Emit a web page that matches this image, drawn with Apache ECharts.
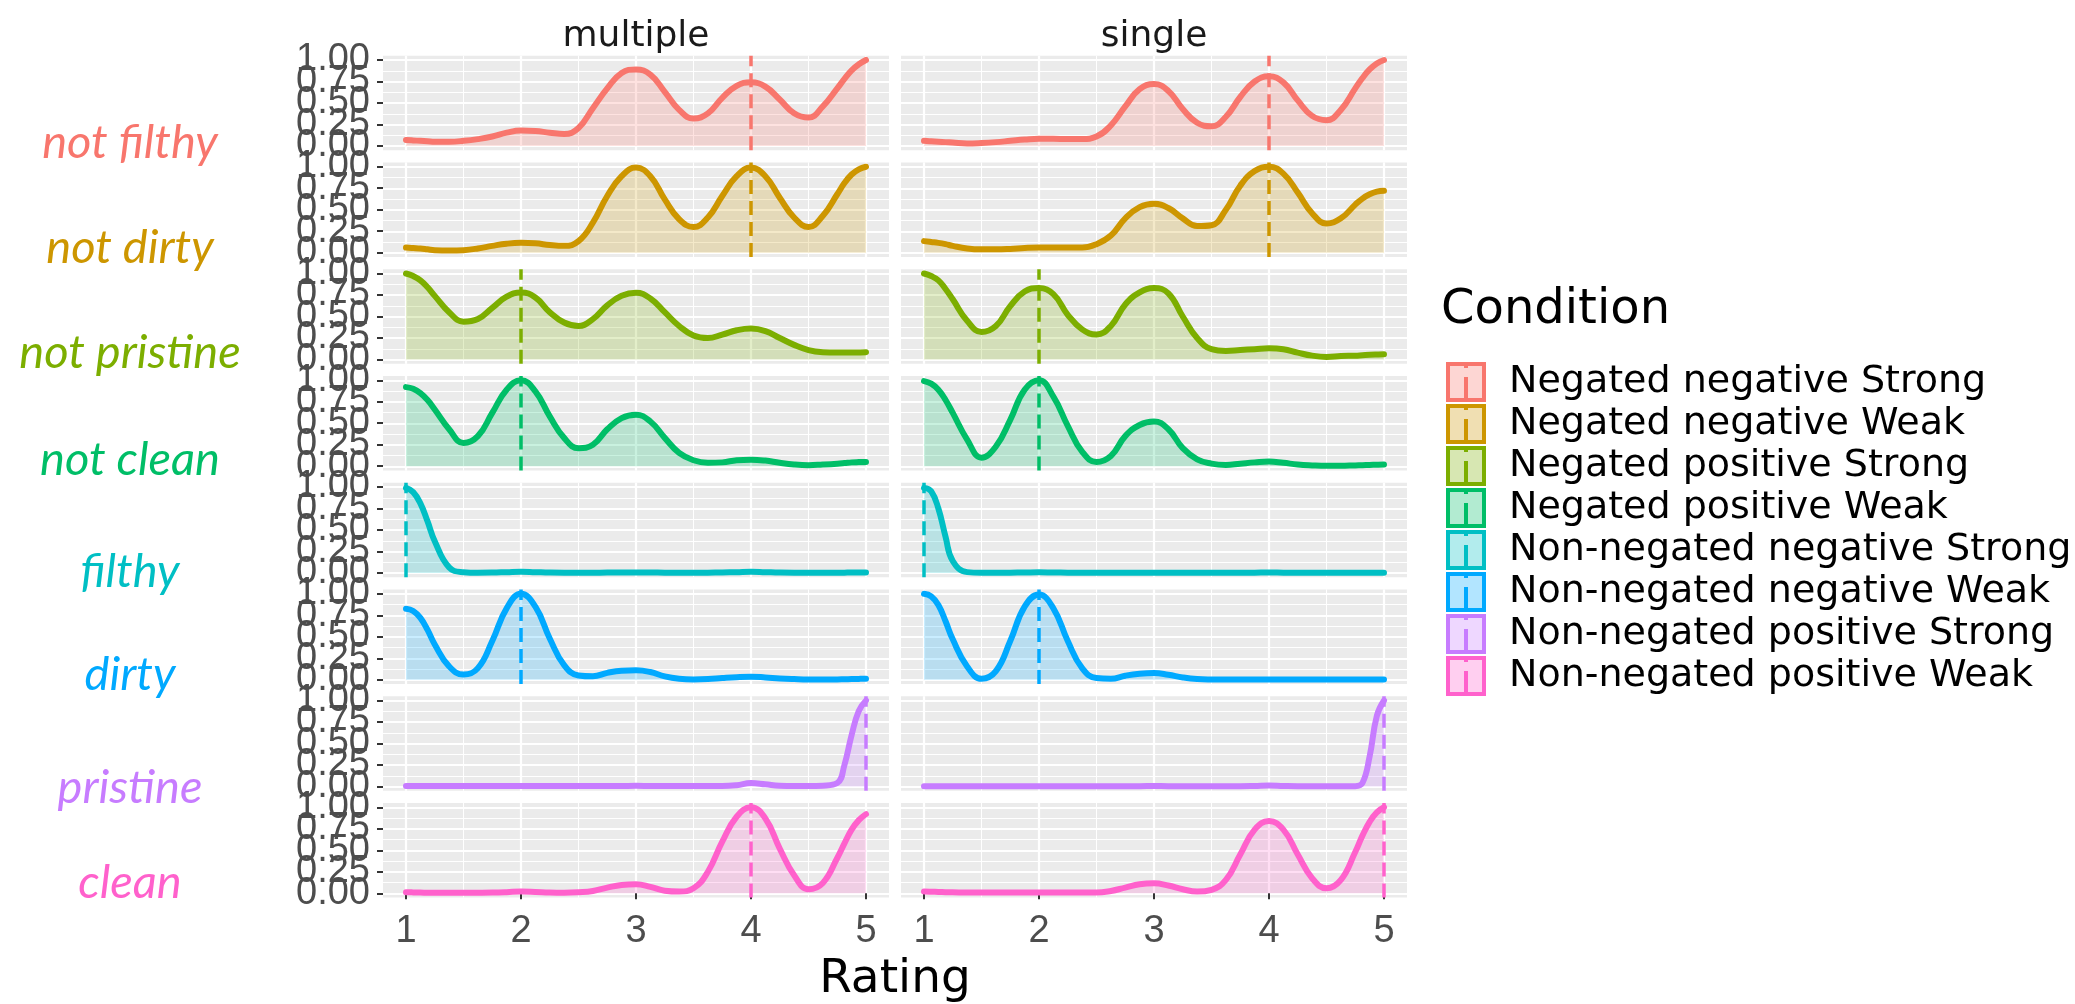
<!DOCTYPE html>
<html>
<head>
<meta charset="utf-8">
<script src="https://cdn.jsdelivr.net/npm/echarts@6/dist/echarts.min.js"></script>
<style>
html,body{margin:0;padding:0;background:#ffffff;}
#chart{width:2075px;height:1004px;}
</style>
</head>
<body>
<div id="chart"></div>
<script>
// ---------------- DATA ----------------
const ratingGrid = [1, 1.0625, 1.125, 1.1875, 1.25, 1.375, 1.5, 1.625, 1.75, 1.875, 2, 2.125, 2.25, 2.375, 2.5, 2.625, 2.75, 2.875, 3, 3.125, 3.25, 3.375, 3.5, 3.625, 3.75, 3.875, 4, 4.125, 4.25, 4.375, 4.5, 4.625, 4.75, 4.8125, 4.875, 4.9375, 5];

const conditions = ['Negated negative Strong', 'Negated negative Weak', 'Negated positive Strong', 'Negated positive Weak',
  'Non-negated negative Strong', 'Non-negated negative Weak', 'Non-negated positive Strong', 'Non-negated positive Weak'];
const rowLabels = ['not filthy', 'not dirty', 'not pristine', 'not clean', 'filthy', 'dirty', 'pristine', 'clean'];
const facets = ['multiple', 'single'];
const xTicks = [1, 2, 3, 4, 5];
const xMinorTicks = [1.5, 2.5, 3.5, 4.5];
const yTicks = [0, 0.25, 0.5, 0.75, 1];
const yLabelsEven = [0, 0.5, 1];
const yLabelsOdd = [0.25, 0.75];
const yMinorTicks = [0.125, 0.375, 0.625, 0.875];
const modeMultiple = [4, 4, 2, 2, 1, 2, 5, 4];
const modeSingle = [4, 4, 2, 2, 1, 2, 5, 5];

const notFilthyMultiple = [0.07,0.065,0.06,0.055,0.05,0.05,0.06,0.08,0.11,0.155,0.18,0.175,0.155,0.14,0.21,0.44,0.67,0.85,0.89,0.83,0.63,0.42,0.32,0.38,0.56,0.70,0.74,0.69,0.54,0.38,0.33,0.46,0.67,0.78,0.88,0.95,1.0];
const notFilthySingle = [0.06,0.055,0.05,0.045,0.04,0.03,0.035,0.045,0.06,0.075,0.085,0.085,0.08,0.08,0.11,0.24,0.46,0.66,0.72,0.64,0.43,0.27,0.23,0.34,0.57,0.75,0.81,0.74,0.53,0.35,0.30,0.42,0.67,0.79,0.89,0.96,1.0];
const notDirtyMultiple = [0.06,0.055,0.05,0.04,0.03,0.025,0.03,0.05,0.08,0.105,0.115,0.11,0.09,0.08,0.135,0.35,0.66,0.89,0.99,0.89,0.62,0.39,0.30,0.41,0.66,0.89,0.99,0.89,0.64,0.41,0.30,0.43,0.68,0.81,0.91,0.97,1.0];
const notDirtySingle = [0.135,0.125,0.115,0.10,0.08,0.05,0.04,0.04,0.045,0.055,0.06,0.06,0.06,0.06,0.10,0.20,0.40,0.53,0.57,0.52,0.40,0.31,0.32,0.50,0.78,0.95,1.0,0.92,0.70,0.46,0.34,0.40,0.56,0.63,0.68,0.71,0.72];
const notPristineMultiple = [1.0,0.97,0.92,0.84,0.74,0.55,0.44,0.47,0.60,0.73,0.78,0.72,0.55,0.43,0.39,0.47,0.63,0.74,0.775,0.71,0.55,0.39,0.28,0.25,0.29,0.34,0.36,0.33,0.25,0.17,0.11,0.085,0.08,0.08,0.08,0.082,0.085];
const notPristineSingle = [1.0,0.97,0.92,0.82,0.70,0.45,0.32,0.39,0.62,0.79,0.83,0.76,0.52,0.35,0.29,0.39,0.64,0.78,0.83,0.77,0.50,0.25,0.12,0.10,0.11,0.12,0.13,0.12,0.08,0.045,0.03,0.04,0.045,0.05,0.055,0.058,0.06];
const notCleanMultiple = [0.92,0.90,0.85,0.77,0.66,0.43,0.27,0.35,0.62,0.89,1.0,0.87,0.58,0.33,0.21,0.25,0.43,0.56,0.60,0.52,0.33,0.155,0.07,0.04,0.045,0.07,0.077,0.066,0.04,0.02,0.012,0.02,0.03,0.037,0.045,0.048,0.05];
const notCleanSingle = [0.99,0.96,0.89,0.77,0.62,0.31,0.10,0.23,0.54,0.89,1.0,0.81,0.47,0.17,0.05,0.12,0.35,0.48,0.52,0.43,0.21,0.08,0.03,0.015,0.03,0.045,0.055,0.04,0.02,0.01,0.005,0.005,0.01,0.012,0.015,0.018,0.02];
const filthyMultiple = [0.99,0.94,0.81,0.60,0.37,0.065,0.01,0.003,0.005,0.01,0.015,0.01,0.005,0.003,0.003,0.003,0.005,0.005,0.006,0.005,0.004,0.003,0.003,0.004,0.006,0.01,0.015,0.01,0.005,0.003,0.003,0.003,0.003,0.004,0.005,0.005,0.005];
const filthySingle = [0.99,0.95,0.75,0.42,0.14,0.01,0.003,0.003,0.004,0.006,0.008,0.006,0.004,0.003,0.003,0.003,0.003,0.004,0.004,0.004,0.003,0.003,0.003,0.003,0.003,0.004,0.006,0.004,0.003,0.003,0.003,0.003,0.003,0.003,0.004,0.004,0.004];
const dirtyMultiple = [0.825,0.80,0.72,0.58,0.41,0.155,0.06,0.135,0.45,0.83,1.0,0.85,0.48,0.17,0.05,0.04,0.08,0.105,0.11,0.09,0.04,0.012,0.004,0.008,0.02,0.03,0.035,0.027,0.015,0.008,0.004,0.004,0.004,0.006,0.008,0.01,0.012];
const dirtySingle = [1.0,0.97,0.87,0.68,0.47,0.155,0.012,0.10,0.45,0.85,0.99,0.83,0.45,0.135,0.02,0.012,0.047,0.07,0.078,0.058,0.027,0.008,0.003,0.002,0.002,0.002,0.002,0.002,0.002,0.002,0.002,0.002,0.002,0.002,0.002,0.002,0.002];
const pristineMultiple = [0.005,0.005,0.005,0.005,0.005,0.005,0.005,0.005,0.005,0.005,0.006,0.005,0.005,0.005,0.005,0.005,0.005,0.006,0.008,0.006,0.005,0.005,0.005,0.005,0.005,0.015,0.04,0.025,0.008,0.005,0.005,0.01,0.04,0.25,0.6,0.88,1.0];
const pristineSingle = [0.004,0.004,0.004,0.004,0.004,0.004,0.004,0.004,0.004,0.004,0.004,0.004,0.004,0.004,0.004,0.004,0.004,0.004,0.005,0.004,0.004,0.004,0.004,0.004,0.004,0.007,0.012,0.007,0.004,0.004,0.004,0.004,0.004,0.04,0.35,0.82,1.0];
const cleanMultiple = [0.012,0.01,0.008,0.006,0.005,0.005,0.005,0.006,0.008,0.013,0.02,0.015,0.008,0.006,0.012,0.027,0.066,0.097,0.105,0.074,0.03,0.02,0.058,0.25,0.60,0.89,1.0,0.87,0.52,0.21,0.047,0.12,0.41,0.58,0.74,0.85,0.92];
const cleanSingle = [0.02,0.018,0.015,0.013,0.012,0.008,0.008,0.008,0.008,0.008,0.008,0.008,0.008,0.008,0.008,0.027,0.066,0.105,0.116,0.09,0.047,0.02,0.04,0.155,0.45,0.74,0.84,0.74,0.45,0.175,0.058,0.155,0.48,0.67,0.83,0.94,1.0];

const multipleValues = [notFilthyMultiple, notDirtyMultiple, notPristineMultiple, notCleanMultiple, filthyMultiple, dirtyMultiple, pristineMultiple, cleanMultiple];
const singleValues = [notFilthySingle, notDirtySingle, notPristineSingle, notCleanSingle, filthySingle, dirtySingle, pristineSingle, cleanSingle];

// ---------------- STYLE / LAYOUT ----------------
const palette = ['#F8766D', '#CD9600', '#7CAE00', '#00BE67', '#00BFC4', '#00A9FF', '#C77CFF', '#FF61CC'];
const layout = {
  colLeft: [383, 901], panelW: 506,
  top0: 55.7, pitch: 106.75, panelH: 94.6,
  rowLabelX: 130, rowLabelY: [143, 248, 353, 460, 572, 675, 788, 883],
  facetY: 37, ratingY: 980, legendLeft: 1441, legendTop: 357, legendTitleY: 311
};
const tickFont = 'Liberation Sans';
const yLabelStyle = { margin: 13, fontSize: 38, color: '#4D4D4D', fontFamily: tickFont,
  hideOverlap: false, showMinLabel: true, showMaxLabel: true, formatter: v => Number(v).toFixed(2) };
// legend key: filled square with border plus the dashed vline glyph in the middle
const legendKeyIcon = 'path://M0,0L36,0L36,36L0,36Z M18,0L18,4 M18,13L18,36';

function rgba(hex, a) {
  const n = parseInt(hex.slice(1), 16);
  return 'rgba(' + ((n >> 16) & 255) + ',' + ((n >> 8) & 255) + ',' + (n & 255) + ',' + a + ')';
}

const grids = [], xAxes = [], yAxes = [], series = [];
for (let r = 0; r < 8; r++) {
  for (let c = 0; c < 2; c++) {
    const g = grids.length;
    grids.push({
      left: layout.colLeft[c], top: layout.top0 + r * layout.pitch,
      width: layout.panelW, height: layout.panelH,
      show: true, backgroundColor: '#EBEBEB', borderWidth: 0,
      containLabel: false, outerBoundsMode: 'none'
    });
    const bottomRow = r === 7, leftCol = c === 0;
    // x: major (2g), minor (2g+1)
    xAxes.push({
      type: 'value', gridIndex: g, min: 0.8, max: 5.2, position: 'bottom',
      axisLine: { show: false },
      axisTick: { show: bottomRow, customValues: xTicks, length: 6, lineStyle: { color: '#333333', width: 2 } },
      axisLabel: { show: bottomRow, customValues: xTicks, margin: 15, fontSize: 38, color: '#4D4D4D', fontFamily: tickFont,
        hideOverlap: false, showMinLabel: true, showMaxLabel: true },
      splitLine: { show: true, lineStyle: { color: '#FFFFFF', width: 2.2 } }
    });
    xAxes.push({
      type: 'value', gridIndex: g, min: 0.8, max: 5.2, position: 'bottom',
      axisLine: { show: false },
      axisTick: { show: false, customValues: xMinorTicks },
      axisLabel: { show: false, customValues: xMinorTicks },
      splitLine: { show: true, lineStyle: { color: '#FFFFFF', width: 1.1 } }
    });
    // y: major (3g), minor (3g+1), extra labels (3g+2)
    yAxes.push({
      type: 'value', gridIndex: g, min: -0.05, max: 1.05, position: 'left',
      axisLine: { show: false },
      axisTick: { show: leftCol, customValues: yTicks, length: 6, lineStyle: { color: '#333333', width: 2 } },
      axisLabel: Object.assign({ show: leftCol, customValues: yLabelsEven }, yLabelStyle),
      splitLine: { show: true, lineStyle: { color: '#FFFFFF', width: 2.2 } }
    });
    yAxes.push({
      type: 'value', gridIndex: g, min: -0.05, max: 1.05, position: 'left',
      axisLine: { show: false },
      axisTick: { show: false, customValues: yMinorTicks },
      axisLabel: { show: false, customValues: yMinorTicks },
      splitLine: { show: true, lineStyle: { color: '#FFFFFF', width: 1.1 } }
    });
    yAxes.push({
      type: 'value', gridIndex: g, min: -0.05, max: 1.05, position: 'left',
      axisLine: { show: false },
      axisTick: { show: false, customValues: yLabelsOdd },
      axisLabel: Object.assign({ show: leftCol, customValues: yLabelsOdd }, yLabelStyle),
      splitLine: { show: false }
    });
    const vals = c === 0 ? multipleValues[r] : singleValues[r];
    const mode = c === 0 ? modeMultiple[r] : modeSingle[r];
    const col = palette[r];
    series.push({
      type: 'line', name: conditions[r],
      xAxisIndex: 2 * g, yAxisIndex: 3 * g,
      data: ratingGrid.map((x, i) => [x, vals[i]]),
      smooth: 0.45, showSymbol: false, symbol: 'none',
      lineStyle: { color: col, width: 6, cap: 'round', join: 'round' },
      itemStyle: { color: col },
      areaStyle: { color: rgba(col, 0.3), origin: 'auto' },
      emphasis: { disabled: true },
      markLine: {
        silent: true, symbol: ['none', 'none'], label: { show: false },
        lineStyle: { color: col, width: 3.5, type: [14, 7] },
        emphasis: { disabled: true },
        data: [{ xAxis: mode }]
      },
      z: 3
    });
  }
}

const graphics = [];
rowLabels.forEach((t, r) => {
  graphics.push({
    type: 'text', x: layout.rowLabelX, y: layout.rowLabelY[r], silent: true,
    style: { text: t, fill: palette[r], font: 'italic 47px Lato', align: 'center', verticalAlign: 'middle' }
  });
});
facets.forEach((t, c) => {
  graphics.push({
    type: 'text', x: layout.colLeft[c] + layout.panelW / 2, y: layout.facetY, silent: true,
    style: { text: t, fill: '#1A1A1A', font: '36px "DejaVu Sans"', align: 'center', verticalAlign: 'middle' }
  });
});
graphics.push({
  type: 'text', x: (layout.colLeft[0] + layout.colLeft[1] + layout.panelW) / 2, y: layout.ratingY, silent: true,
  style: { text: 'Rating', fill: '#000000', font: '47px "DejaVu Sans"', align: 'center', verticalAlign: 'middle' }
});
graphics.push({
  type: 'text', x: layout.legendLeft, y: layout.legendTitleY, silent: true,
  style: { text: 'Condition', fill: '#000000', font: '48px "DejaVu Sans"', align: 'left', verticalAlign: 'middle' }
});

const option = {
  animation: false,
  backgroundColor: '#FFFFFF',
  grid: grids,
  xAxis: xAxes,
  yAxis: yAxes,
  series: series,
  legend: {
    orient: 'vertical', left: layout.legendLeft, top: layout.legendTop,
    itemWidth: 36, itemHeight: 36, itemGap: 2,
    selectedMode: false,
    textStyle: { fontSize: 38, lineHeight: 38, color: '#000000', fontFamily: 'DejaVu Sans', padding: [0, 0, 0, 20] },
    data: conditions.map((n, i) => ({
      name: n, icon: legendKeyIcon,
      itemStyle: { color: rgba(palette[i], 0.3), borderColor: palette[i], borderWidth: 4 }
    }))
  },
  graphic: graphics
};

const chart = echarts.init(document.getElementById('chart'), null, { renderer: 'canvas' });
chart.setOption(option);
</script>
</body>
</html>
